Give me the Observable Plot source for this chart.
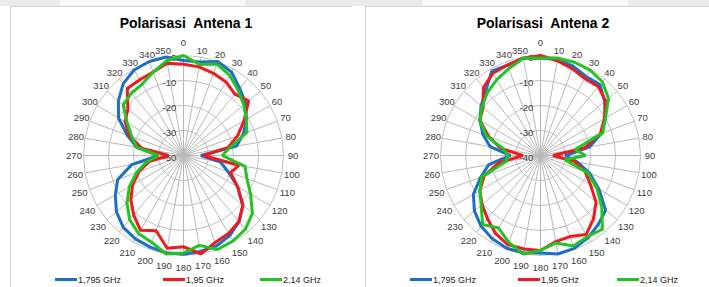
<!DOCTYPE html>
<html><head><meta charset="utf-8">
<script src="https://cdn.jsdelivr.net/npm/d3@7"></script>
<script src="https://cdn.jsdelivr.net/npm/@observablehq/plot@0.6"></script>
<style>
body{margin:0;background:#fff;font-family:"Liberation Sans",Arial,sans-serif;}
#page{position:relative;width:709px;height:287px;overflow:hidden;background:#fff}
.band{position:absolute;left:0;top:0;width:709px;height:6px;background:#ebebeb}
.glow{position:absolute;top:0;height:6px;background:#f8f8f8}
.vline{position:absolute;width:1px;background:#d4d4d4}
.hline{position:absolute;height:1px;background:#d9d9d9}
.title{position:absolute;top:15px;width:260px;text-align:center;font-weight:bold;font-size:14px;color:#000;white-space:pre}
.plot{position:absolute;top:35px}
.lg{position:absolute;top:275px;font-size:9px;color:#222;white-space:nowrap;line-height:10px}
.lg i{display:inline-block;width:22px;height:3px;vertical-align:middle;margin-right:1px;position:relative;top:-1px}
</style></head><body><div id="page">
<div class="band"></div><div class="glow" style="left:60px;width:185px"></div><div class="glow" style="left:422px;width:206px"></div>
<div class="hline" style="left:10px;top:6px;width:342px"></div>
<div class="hline" style="left:365px;top:6px;width:344px"></div>
<div class="vline" style="left:10px;top:6px;height:281px"></div>
<div class="vline" style="left:365px;top:6px;height:281px"></div>
</div>
<script>
const angles = d3.range(0, 360, 10);
const seriesNames = ["1,795 GHz", "1,95 GHz", "2,14 GHz"];
const colors = ["#1c6fc4", "#f01a1e", "#22c322"];
const titles = ["Polarisasi  Antena 1", "Polarisasi  Antena 2"];
const ringValues = [0, -10, -20, -30, -40];
const ringLabels1 = ["0", "-10", "-20", "-30", "-50"];
const ringLabels2 = ["0", "-10", "-20", "-30", "-40"];

// Antena 1
const ant1_1795 = [-2,-2,0,-1.5,-5,-7.5,-11,-14.5,-18.5,-33,-25,-21,-15,-9,-5.5,-3,-1.5,-1,-0.5,-0.5,-1,-1.5,-2.5,-5,-8.5,-12,-19,-30,-21,-16,-10,-6,-2.5,-0.5,0,0];
const ant1_195  = [-3.5,-4,-5,-6,-8,-6,-12,-17,-22,-32,-17.5,-20,-15,-9,-5.5,-4,-3,0,-3.5,-2.3,-8,-5.5,-9,-12.5,-16.5,-21,-26,-34,-23,-17,-13,-11,-5,-5,-4.5,-2.5];
const ant1_214  = [0,-3,-1,-3,-6,-8.5,-11,-13,-21,-24.5,-15,-13,-9,-4,-1.5,-0.5,0,-3.5,-1,0,-3,-4,-6.5,-10.5,-15,-20,-25,-30,-21,-18,-14,-8.5,-7.5,-7,-4.5,-1.5];
// Antena 2
const ant2_1795 = [-1,-1,-2,-3.5,-3,-6.5,-10,-14,-20,-30,-25,-19,-13,-6,-4,-2,-0.5,0,-1,-0.5,-0.5,-1.5,-3,-5.5,-9,-14.5,-19,-28,-19.5,-15.5,-12,-9,-6,-1,-1.5,-0.5];
const ant2_195  = [0,-1.5,-3,-4.5,-4,-6,-10.5,-14.5,-22,-35,-26,-21,-17,-11,-7,-3.5,-5.5,-5,-2,-2,-2,-4,-7,-9.5,-12,-16,-23,-33,-24,-18,-12,-10,-4.5,-2,-1.5,-0.5];
const ant2_214  = [-1,-0.5,-0.3,-0.5,-1.5,-4.5,-10,-13.5,-26,-22,-30,-20,-14,-8,-1.5,-2.5,-1.5,-4.5,-2,0,-3,-6.5,-4,-9,-12,-15,-26,-27,-25,-17,-12,-9.5,-7,-5,-3,-0.5];

const minV = -40;
const rad = a => a * Math.PI / 180;
const px = (a, r) => r * Math.sin(rad(a));
const py = (a, r) => r * Math.cos(rad(a));

function radar(series, ringLabels) {
  const rows = [];
  series.forEach((vals, i) => angles.forEach((a, j) => rows.push({s: seriesNames[i], a, r: vals[j] - minV})));
  const rings = [];
  ringValues.slice(0, 4).forEach(v => angles.forEach(a => rings.push({ring: v, a, r: v - minV})));
  const outer = 0 - minV;
  const labR = a => (a === 0 ? 45 : 43.8 - 1.2 * Math.cos(rad(a)));
  const labX = a => px(a, labR(a)) - (a === 350 ? 0.8 : 0);
  return Plot.plot({
    width: 306, height: 240, margin: 0,
    x: {domain: [-61.2, 61.2], axis: null},
    y: {domain: [-48, 48], axis: null},
    color: {domain: seriesNames, range: colors},
    style: {fontFamily: "Liberation Sans, Arial, sans-serif", background: "transparent", overflow: "visible"},
    marks: [
      Plot.link(angles, {x1: 0, y1: 0, x2: a => px(a, outer), y2: a => py(a, outer), stroke: "#b8b8b8", strokeWidth: 1}),
      Plot.line(rings, {x: d => px(d.a, d.r), y: d => py(d.a, d.r), z: "ring", curve: "linear-closed", stroke: "#c0c0c0", strokeWidth: 1}),
      Plot.text(ringValues, {x: -2.9, y: v => v - minV, dy: 2, text: (v, i) => ringLabels[i], textAnchor: "end", fontSize: 9.5, fill: "#404040"}),
      Plot.text(angles, {x: labX, y: a => py(a, labR(a)), text: a => String(a), fontSize: 9.5, fill: "#404040"}),
      Plot.line(rows, {x: d => px(d.a, d.r), y: d => py(d.a, d.r), z: "s", stroke: "s", strokeWidth: 3, curve: "linear-closed", strokeLinejoin: "miter"})
    ]
  });
}

const page = document.getElementById("page");
const defs = [
  {series: [ant1_1795, ant1_195, ant1_214], rings: ringLabels1, left: 30, cx: 183, leg: [55, 163, 260]},
  {series: [ant2_1795, ant2_195, ant2_214], rings: ringLabels2, left: 387, cx: 540, leg: [410, 518, 617]}
];
defs.forEach((d, k) => {
  const t = document.createElement("div");
  t.className = "title"; t.textContent = titles[k];
  t.style.left = (d.cx + 3 - 130) + "px";
  page.appendChild(t);
  const svg = radar(d.series, d.rings);
  svg.classList.add("plot");
  svg.style.left = d.left + "px";
  page.appendChild(svg);
  seriesNames.forEach((n, i) => {
    const l = document.createElement("div");
    l.className = "lg"; l.style.left = d.leg[i] + "px";
    l.innerHTML = `<i style="background:${colors[i]}"></i>`;
    l.appendChild(document.createTextNode(n));
    page.appendChild(l);
  });
});
</script></body></html>
